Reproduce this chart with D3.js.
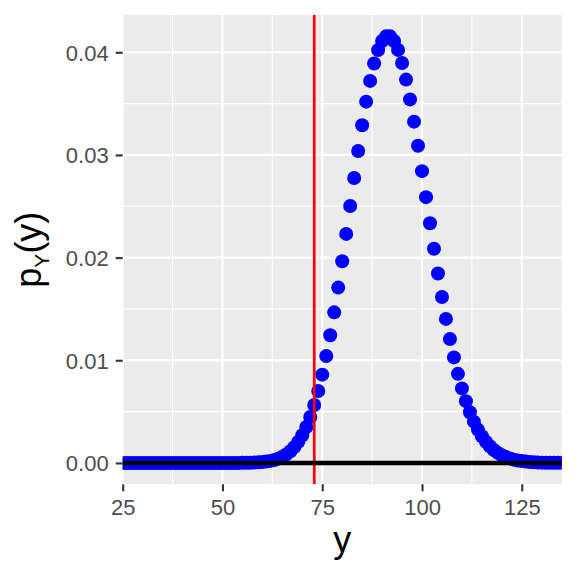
<!DOCTYPE html>
<html>
<head>
<meta charset="utf-8">
<script src="https://cdn.jsdelivr.net/npm/d3@7"></script>
<style>
  html, body { margin: 0; padding: 0; background: #ffffff; }
  svg { display: block; font-family: "Liberation Sans", Arial, sans-serif; }
</style>
</head>
<body>
<svg id="chart" width="576" height="576"></svg>
<script>
// ---- data ----
const yValues = [25,26,27,28,29,30,31,32,33,34,35,36,37,38,39,40,41,42,43,44,45,46,47,48,49,50,
  51,52,53,54,55,56,57,58,59,60,61,62,63,64,65,66,67,68,69,70,71,72,73,74,75,76,77,78,79,80,
  81,82,83,84,85,86,87,88,89,90,91,92,93,94,95,96,97,98,99,100,101,102,103,104,105,106,107,108,109,110,
  111,112,113,114,115,116,117,118,119,120,121,122,123,124,125,126,127,128,129,130,131,132,133,134,135];
const pValues = [0,0,0,0,0,0,0,0,0,0,0,0,0,0,0,0,0,0,0,0,0,0,0,0,0,0,
  0,0,0,0,0.00001,0.00001,0.00002,0.00004,0.00006,0.00009,
  0.00014,0.00020,0.00029,0.00042,0.00060,0.00083,0.00114,0.00154,0.00206,0.00270,
  0.00350,0.00448,0.00564,0.00701,0.00860,0.01041,0.01244,0.01467,0.01708,0.01965,
  0.02231,0.02503,0.02775,0.03039,0.03289,0.03519,0.03721,0.03890,0.04021,0.04110,
  0.04155,0.04155,0.04110,0.04023,0.03896,0.03734,0.03541,0.03324,0.03089,0.02842,
  0.02589,0.02335,0.02086,0.01845,0.01617,0.01403,0.01207,0.01028,0.00868,0.00726,
  0.00602,0.00494,0.00402,0.00325,0.00260,0.00206,0.00162,0.00126,0.00098,0.00075,
  0.00057,0.00043,0.00032,0.00024,0.00018,0.00013,0.00009,0.00007,0.00005,0.00003,
  0.00002,0.00002,0.00001,0.00001,0.00001];
const xTicks = [25, 50, 75, 100, 125];
const xMinor = [37.5, 62.5, 87.5, 112.5];
const yTicks = [0, 0.01, 0.02, 0.03, 0.04];
const yMinor = [0.005, 0.015, 0.025, 0.035];
const vlineX = [73];
const hlineY = [0];

const data = yValues.map((v, i) => ({ y: v, p: pValues[i] }));

// ---- layout ----
const L = 122.7, R = 561.7, T = 15, B = 484.3;
const x = d3.scaleLinear().domain([25, 135]).range([L, R]);
const y = d3.scaleLinear().domain([-0.00208, 0.04363]).range([B, T]);

const svg = d3.select("#chart");
svg.append("defs").append("clipPath").attr("id", "clip")
  .append("rect").attr("x", L).attr("y", T).attr("width", R - L).attr("height", B - T);

// panel background
svg.append("rect").attr("x", L).attr("y", T).attr("width", R - L).attr("height", B - T)
  .attr("fill", "#EBEBEB");

const grid = svg.append("g").attr("clip-path", "url(#clip)");
grid.selectAll(".xminor").data(xMinor).join("line")
  .attr("x1", d => x(d)).attr("x2", d => x(d)).attr("y1", T).attr("y2", B)
  .attr("stroke", "#ffffff").attr("stroke-width", 1.1);
grid.selectAll(".yminor").data(yMinor).join("line")
  .attr("y1", d => y(d)).attr("y2", d => y(d)).attr("x1", L).attr("x2", R)
  .attr("stroke", "#ffffff").attr("stroke-width", 1.1);
grid.selectAll(".xmajor").data(xTicks).join("line")
  .attr("x1", d => x(d)).attr("x2", d => x(d)).attr("y1", T).attr("y2", B)
  .attr("stroke", "#ffffff").attr("stroke-width", 2.2);
grid.selectAll(".ymajor").data(yTicks).join("line")
  .attr("y1", d => y(d)).attr("y2", d => y(d)).attr("x1", L).attr("x2", R)
  .attr("stroke", "#ffffff").attr("stroke-width", 2.2);

// points
const marks = svg.append("g").attr("clip-path", "url(#clip)");
marks.selectAll("circle").data(data).join("circle")
  .attr("cx", d => x(d.y)).attr("cy", d => y(d.p)).attr("r", 7)
  .attr("fill", "#0000FF");

// reference lines
marks.selectAll(".vline").data(vlineX).join("line")
  .attr("x1", d => x(d)).attr("x2", d => x(d)).attr("y1", T).attr("y2", B)
  .attr("stroke", "#FF0000").attr("stroke-width", 2.7);
marks.selectAll(".hline").data(hlineY).join("line")
  .attr("y1", d => y(d)).attr("y2", d => y(d)).attr("x1", L).attr("x2", R)
  .attr("stroke", "#000000").attr("stroke-width", 4.4);

// axes
const xAxis = svg.append("g").attr("transform", `translate(0,${B})`)
  .call(d3.axisBottom(x).tickValues(xTicks).tickFormat(d3.format("d")).tickSize(7).tickPadding(4));
const yAxis = svg.append("g").attr("transform", `translate(${L},0)`)
  .call(d3.axisLeft(y).tickValues(yTicks).tickFormat(d3.format(".2f")).tickSize(7).tickPadding(7));
[xAxis, yAxis].forEach(g => {
  g.select(".domain").remove();
  g.selectAll(".tick line").attr("stroke", "#333333").attr("stroke-width", 2.1);
  g.selectAll(".tick text").attr("fill", "#4D4D4D").attr("font-size", 22)
    .attr("font-family", "'Liberation Sans', Arial, sans-serif");
});
xAxis.selectAll(".tick text").attr("dy", null).attr("y", 0).attr("dominant-baseline", "auto")
  .attr("transform", "translate(0,30.7)");
yAxis.selectAll(".tick text").attr("dy", "0.36em");

// axis titles
svg.append("text").attr("x", (L + R) / 2).attr("y", 552)
  .attr("text-anchor", "middle").attr("font-size", 36).attr("fill", "#000000")
  .text("y");

const yt = svg.append("text")
  .attr("transform", `translate(41,${(T + B) / 2}) rotate(-90)`)
  .attr("text-anchor", "middle").attr("font-size", 36).attr("fill", "#000000");
yt.append("tspan").text("p");
yt.append("tspan").attr("font-size", 21).attr("dy", 8).text("Y");
yt.append("tspan").attr("dy", -8).text("(y)");
</script>
</body>
</html>
